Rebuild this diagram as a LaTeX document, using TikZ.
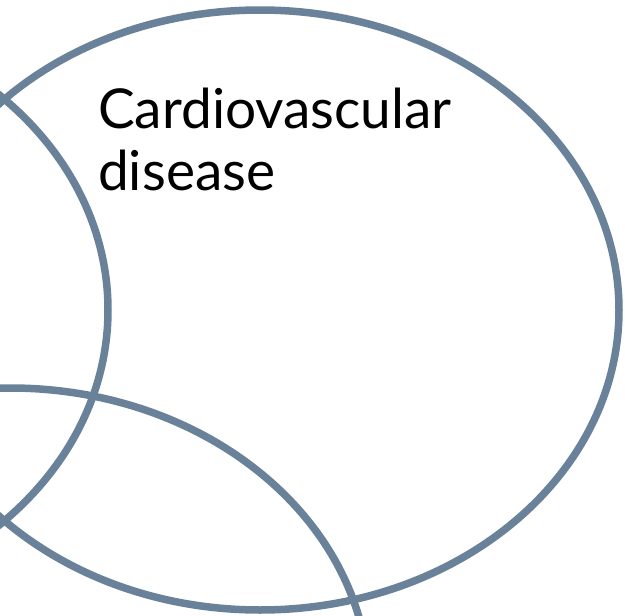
\documentclass[tikz,border=0pt]{standalone}
\usepackage{fontspec}
\setmainfont{Lato}
\definecolor{ringcol}{RGB}{106,130,153}
\begin{document}
\begin{tikzpicture}[x=1pt,y=-1pt,
  ring/.style={draw=ringcol,line width=7.5pt},
  label/.style={anchor=base west,align=left,inner sep=0pt,
    font=\fontsize{55pt}{62pt}\selectfont,text=black}]
\useasboundingbox (0,0) rectangle (625,616);
\clip (0,0) rectangle (625,616);
\coordinate (cL) at (-251,310);
\coordinate (cR) at (260,310);
\coordinate (cB) at (10,688);
\draw[ring] (cL) ellipse [x radius=359pt, y radius=300pt];
\draw[ring] (cR) ellipse [x radius=359pt, y radius=300pt];
\draw[ring] (cB) ellipse [x radius=359pt, y radius=300pt];
\node[label] (cvd) at (98,190) {Cardiovascular\\disease};
\end{tikzpicture}
\end{document}
